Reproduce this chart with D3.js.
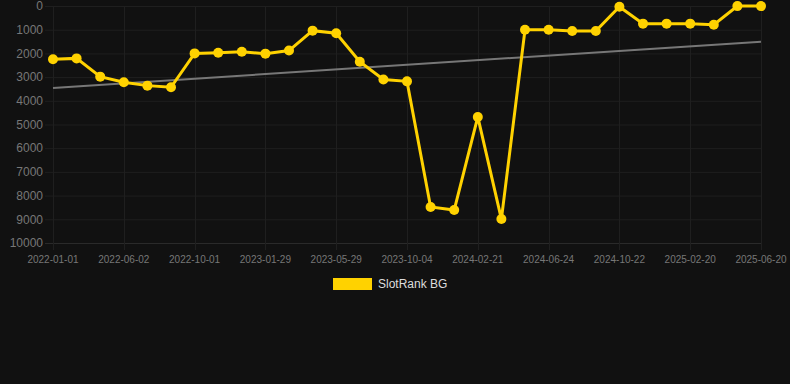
<!DOCTYPE html>
<html>
<head>
<meta charset="utf-8">
<script src="https://cdn.jsdelivr.net/npm/d3@7"></script>
<style>
  html, body { margin: 0; padding: 0; background: #111111; }
  svg { display: block; font-family: "Liberation Sans", Arial, sans-serif; }
</style>
</head>
<body>
<div id="chart"></div>
<script>
// categories (only every third one is labelled on the axis)
const dates = [
  "2022-01-01", "2022-02-20", "2022-04-11", "2022-06-02", "2022-07-12", "2022-08-21",
  "2022-10-01", "2022-11-09", "2022-12-19", "2023-01-29", "2023-03-09", "2023-04-18",
  "2023-05-29", "2023-07-10", "2023-08-22", "2023-10-04", "2023-11-19", "2024-01-05",
  "2024-02-21", "2024-04-01", "2024-05-12", "2024-06-24", "2024-08-02", "2024-09-12",
  "2024-10-22", "2024-12-01", "2025-01-10", "2025-02-20", "2025-03-31", "2025-05-10",
  "2025-06-20"
];

// SlotRank BG rank per date
const ranks = [
  2250, 2210, 2980, 3220, 3360, 3430,
  2000, 1970, 1930, 2010, 1880, 1040,
  1150, 2350, 3100, 3180, 8480, 8610,
  4680, 8990, 1000, 1000, 1055, 1055,
  30, 745, 745, 745, 790, 5,
  5
];

// trend line, start and end value
const trend = [3460, 1505];

const yTicks = [0, 1000, 2000, 3000, 4000, 5000, 6000, 7000, 8000, 9000, 10000];

const W = 790, H = 384;
const m = {left: 53, right: 761, top: 6, bottom: 243};

const svg = d3.select("#chart")
    .append("svg")
    .attr("width", W)
    .attr("height", H);

svg.append("rect")
    .attr("width", W)
    .attr("height", H)
    .style("fill", "#111111");

const x = d3.scalePoint()
    .domain(dates)
    .range([m.left, m.right]);

const y = d3.scaleLinear()
    .domain([0, 10000])
    .range([m.top, m.bottom]);

// horizontal grid + y labels
svg.append("g")
    .selectAll("line")
    .data(yTicks)
    .join("line")
    .attr("x1", m.left - 8)
    .attr("x2", m.right)
    .attr("y1", d => y(d) + 0.5)
    .attr("y2", d => y(d) + 0.5)
    .style("stroke", d => d === 10000 ? "#2a2a2a" : "#1f1f1f")
    .style("stroke-width", 1);

svg.append("g")
    .selectAll("text")
    .data(yTicks)
    .join("text")
    .text(d => d)
    .attr("x", 43)
    .attr("y", d => y(d))
    .attr("dy", "0.35em")
    .attr("text-anchor", "end")
    .style("font-size", "12px")
    .style("fill", "#777777");

// vertical grid + x labels, every third category
const xLabels = dates.filter((d, i) => i % 3 === 0);

svg.append("g")
    .selectAll("line")
    .data(xLabels)
    .join("line")
    .attr("x1", d => Math.round(x(d)) + 0.5)
    .attr("x2", d => Math.round(x(d)) + 0.5)
    .attr("y1", m.top)
    .attr("y2", m.bottom + 7)
    .style("stroke", "#1f1f1f")
    .style("stroke-width", 1);

svg.append("g")
    .selectAll("text")
    .data(xLabels)
    .join("text")
    .text(d => d)
    .attr("x", d => x(d))
    .attr("y", 263)
    .attr("text-anchor", "middle")
    .style("font-size", "10px")
    .style("fill", "#777777");

// trend line
svg.append("line")
    .attr("x1", x(dates[0]))
    .attr("x2", x(dates[dates.length - 1]))
    .attr("y1", y(trend[0]))
    .attr("y2", y(trend[1]))
    .style("stroke", "#777777")
    .style("stroke-width", 2);

// series
const line = d3.line()
    .x((d, i) => x(dates[i]))
    .y(d => y(d));

svg.append("path")
    .datum(ranks)
    .attr("d", line)
    .style("fill", "none")
    .style("stroke", "#ffd200")
    .style("stroke-width", 3)
    .style("stroke-linejoin", "miter");

svg.append("g")
    .selectAll("circle")
    .data(ranks)
    .join("circle")
    .attr("cx", (d, i) => x(dates[i]))
    .attr("cy", d => y(d))
    .attr("r", 5)
    .style("fill", "#ffd200");

// legend
svg.append("rect")
    .attr("x", 333)
    .attr("y", 278)
    .attr("width", 39)
    .attr("height", 12)
    .style("fill", "#ffd200");

svg.append("text")
    .text("SlotRank BG")
    .attr("x", 378)
    .attr("y", 284)
    .attr("dy", "0.35em")
    .style("font-size", "12px")
    .style("fill", "#dddddd");
</script>
</body>
</html>
